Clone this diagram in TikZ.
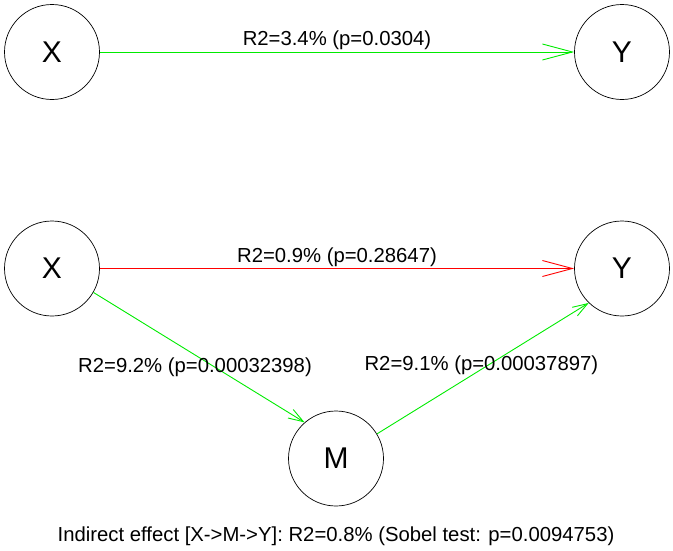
\documentclass[tikz,border=0pt]{standalone}
\usepackage{fontspec}
\setmainfont{Liberation Sans}
\usepackage{tikz}
\usetikzlibrary{positioning, arrows.meta}
\definecolor{effgreen}{RGB}{0,235,0}
\definecolor{effred}{RGB}{255,0,0}

\begin{document}
\begin{tikzpicture}[x=1pt, y=1pt, on grid, >={Straight Barb[length=30pt,width=16pt]},
    var/.style={circle, draw, line width=0.7pt, minimum size=95pt, inner sep=0pt, font=\fontsize{30}{30}\selectfont},
    lbl/.style={text=black, font=\fontsize{20.3}{20}\selectfont},
    small/.style={>={Straight Barb[length=15pt,width=10pt]}}]
   \useasboundingbox (0,0) rectangle (673,-550);
   % total effect
   \node[var] (x_0) at (52,-52) {X};
   \node[var] (y_0) [right=570pt of x_0] {Y};
   % mediation model
   \node[var] (x_1) [below=216.5pt of x_0] {X};
   \node[var] (y_1) [right=570pt of x_1] {Y};
   \node[var] (m_1) [below right=190pt and 284pt of x_1] {M};

   \path[->, line width=0.9pt]
    % X -> Y alone
    (x_0) edge [effgreen] node[lbl, yshift=12pt] {R2=3.4\% (p=0.0304)} (y_0)
    % X -> Y with M
    (x_1) edge [effred] node[lbl, yshift=11pt] {R2=0.9\% (p=0.28647)} (y_1)
    % X -> M
    (x_1.-30) edge [effgreen, small]
          node[lbl, xshift=-4pt, yshift=-10pt] {R2=9.2\% (p=0.00032398)} (m_1.131)
    % M -> Y
    (m_1.31) edge [effgreen, small]
          node[lbl, xshift=-1.5pt, yshift=3.5pt] {R2=9.1\% (p=0.00037897)} (y_1.-134)
    ;

   \node[lbl] (sobel) at (336,-536) {Indirect effect [X->M->Y]: R2=0.8\% (Sobel test: p=0.0094753)};
\end{tikzpicture}
\end{document}
